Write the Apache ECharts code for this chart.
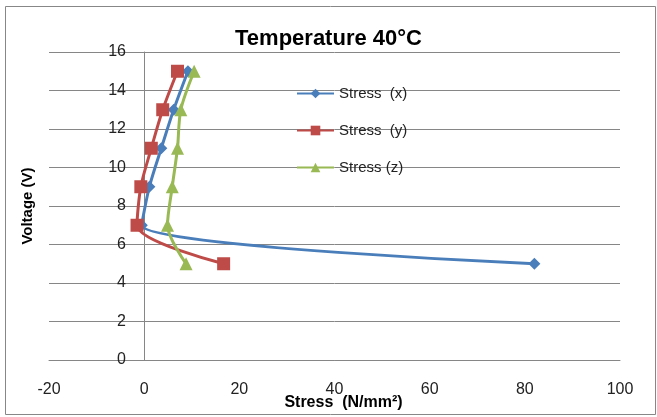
<!DOCTYPE html>
<html><head><meta charset="utf-8">
<script src="https://cdn.jsdelivr.net/npm/echarts@6/dist/echarts.min.js"></script>
<style>html,body{margin:0;padding:0;background:#fff}#c{width:657px;height:417px}</style>
</head><body><div id="c"></div>
<script>
var voltage = [5, 7, 9, 11, 13, 15];
var stressX = [82, -0.5, 1.1, 3.6, 6.2, 9.2];
var stressY = [16.7, -1.5, -0.7, 1.5, 3.9, 7.0];
var stressZ = [8.8, 4.9, 5.9, 7.0, 7.7, 10.5];
var seriesNames = ['Stress  (x)', 'Stress  (y)', 'Stress (z)'];
var xTicks = [-20, 100, 20];
var yTicks = [0, 16, 2];

function pairs(xs){ return xs.map(function(v,i){ return [v, voltage[i]]; }); }

var chart = echarts.init(document.getElementById('c'));
var font = '"Liberation Sans", Arial, sans-serif';
chart.setOption({
  animation: false,
  textStyle: {fontFamily: font},
  title: {text: 'Temperature 40°C', left: 'center', top: 23,
    textStyle: {fontSize: 22, fontWeight: 'bold', color: '#000', fontFamily: font}},
  graphic: [{type: 'rect', shape: {x: 5.5, y: 6.5, width: 650, height: 408},
    style: {fill: null, stroke: '#878787', lineWidth: 1}, silent: true, z: -1}],
  legend: {orient: 'vertical', left: 291, top: 81, itemGap: 22, itemWidth: 37, itemHeight: 12,
    textStyle: {fontSize: 15, color: '#222', fontFamily: font},
    data: seriesNames},
  grid: {left: 49, right: 37, top: 52, bottom: 57, outerBoundsMode: 'none', containLabel: false},
  xAxis: {type: 'value', min: xTicks[0], max: xTicks[1], interval: xTicks[2],
    name: 'Stress  (N/mm²)', nameLocation: 'middle', nameGap: 35, nameMoveOverlap: false,
    nameTextStyle: {fontSize: 16, fontWeight: 'bold', color: '#000', padding: [0, 0, 0, 18]},
    axisLine: {show: true, lineStyle: {color: '#868686'}},
    axisTick: {show: false},
    axisLabel: {fontSize: 16, color: '#222', margin: 22},
    splitLine: {show: false}},
  yAxis: {type: 'value', min: yTicks[0], max: yTicks[1], interval: yTicks[2],
    name: 'Voltage (V)', nameLocation: 'middle', nameGap: 14, nameRotate: 90, nameMoveOverlap: false,
    nameTextStyle: {fontSize: 15, fontWeight: 'bold', color: '#000'},
    axisLine: {show: true, onZero: true, lineStyle: {color: '#868686'}},
    axisTick: {show: false},
    axisLabel: {fontSize: 16, color: '#222', margin: -77},
    splitLine: {show: true, lineStyle: {color: '#868686', width: 1}}},
  series: [
    {name: seriesNames[0], type: 'line', data: pairs(stressX), smooth: 0.3,
      symbol: 'diamond', symbolSize: 12, color: '#4a7ebb', lineStyle: {width: 3}},
    {name: seriesNames[1], type: 'line', data: pairs(stressY), smooth: 0.3,
      symbol: 'rect', symbolSize: 13, color: '#be4b48', lineStyle: {width: 3}},
    {name: seriesNames[2], type: 'line', data: pairs(stressZ), smooth: 0.3,
      symbol: 'triangle', symbolSize: 13, color: '#98b954', lineStyle: {width: 3}}
  ]
});
</script></body></html>
